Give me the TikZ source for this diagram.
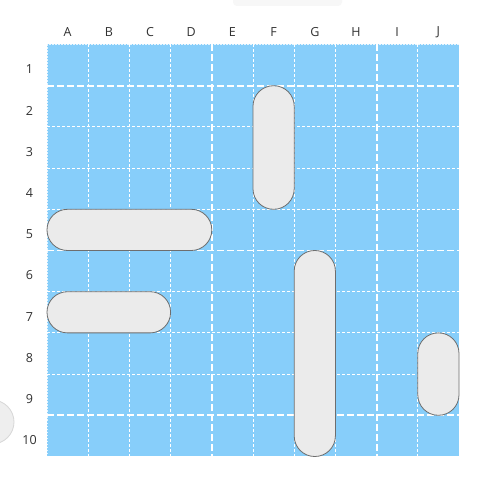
\documentclass[tikz,border=0pt]{standalone}
\usepackage{fontspec}
\setmainfont{Open Sans}
\begin{document}
\begin{tikzpicture}[x=1pt,y=-1pt,
  thin grid/.style={draw=white,line width=0.8pt,dash pattern=on 3pt off 2pt},
  thick grid/.style={draw=white,line width=1.8pt,dash pattern=on 7pt off 3pt},
  ship/.style={fill=shipfill,draw=shipedge,line width=0.8pt,rounded corners=20.5pt},
  lbl/.style={font=\fontsize{12.5}{14}\selectfont,text=labeltext,inner sep=0pt}]
\definecolor{sea}{RGB}{135,206,250}
\definecolor{shipfill}{RGB}{235,235,235}
\definecolor{shipedge}{RGB}{110,110,110}
\definecolor{labeltext}{RGB}{50,50,50}
\definecolor{faint}{RGB}{247,247,247}
\definecolor{circfill}{RGB}{238,238,238}
\definecolor{circedge}{RGB}{215,215,215}
\useasboundingbox (0,0) rectangle (499,481);
\fill[white] (0,0) rectangle (499,481);
% faint top element
\fill[faint,rounded corners=4pt] (233,-6) rectangle (342,6);
% left circle
\draw[fill=circfill,draw=circedge,line width=0.8pt] (-8,422) circle (22);
% sea
\def\xo{47}\def\yo{44.5}\def\cs{41.2}
\fill[sea] (\xo,\yo) rectangle (\xo+10*\cs,\yo+10*\cs);
% thin grid lines
\foreach \i in {2,3,4,6,7,8,10} {
  \draw[thin grid] (\xo+\i*\cs-\cs,\yo) -- (\xo+\i*\cs-\cs,\yo+10*\cs);
}
\foreach \i in {1,2,3,5,6,7,9} {
  \draw[thin grid] (\xo,\yo+\i*\cs+\cs) -- (\xo+10*\cs,\yo+\i*\cs+\cs);
}
% thick grid lines
\foreach \i in {4,8} {
  \draw[thick grid] (\xo+\i*\cs,\yo) -- (\xo+\i*\cs,\yo+10*\cs);
}
\foreach \i in {1,5,9} {
  \draw[thick grid] (\xo,\yo+\i*\cs) -- (\xo+10*\cs,\yo+\i*\cs);
}
% outer dotted border
\draw[draw=white,line width=1pt,dash pattern=on 1.5pt off 1.5pt,opacity=0.8] (\xo,\yo) rectangle (\xo+10*\cs,\yo+10*\cs);
% labels
\foreach \l [count=\i] in {A,B,C,D,E,F,G,H,I,J} {
  \node[lbl] (col\l) at (\xo+\i*\cs-0.5*\cs,32.5) {\l};
}
\foreach \n in {1,...,10} {
  \node[lbl] (row\n) at (29.5,\yo+\n*\cs-0.5*\cs+4.3) {\n};
}
% ships
\draw[ship] (\xo+5*\cs,\yo+1*\cs) rectangle (\xo+6*\cs,\yo+4*\cs);
\draw[ship] (\xo+0*\cs,\yo+4*\cs) rectangle (\xo+4*\cs,\yo+5*\cs);
\draw[ship] (\xo+0*\cs,\yo+6*\cs) rectangle (\xo+3*\cs,\yo+7*\cs);
\draw[ship] (\xo+6*\cs,\yo+5*\cs) rectangle (\xo+7*\cs,\yo+10*\cs);
\draw[ship] (\xo+9*\cs,\yo+7*\cs) rectangle (\xo+10*\cs,\yo+9*\cs);
\end{tikzpicture}
\end{document}
